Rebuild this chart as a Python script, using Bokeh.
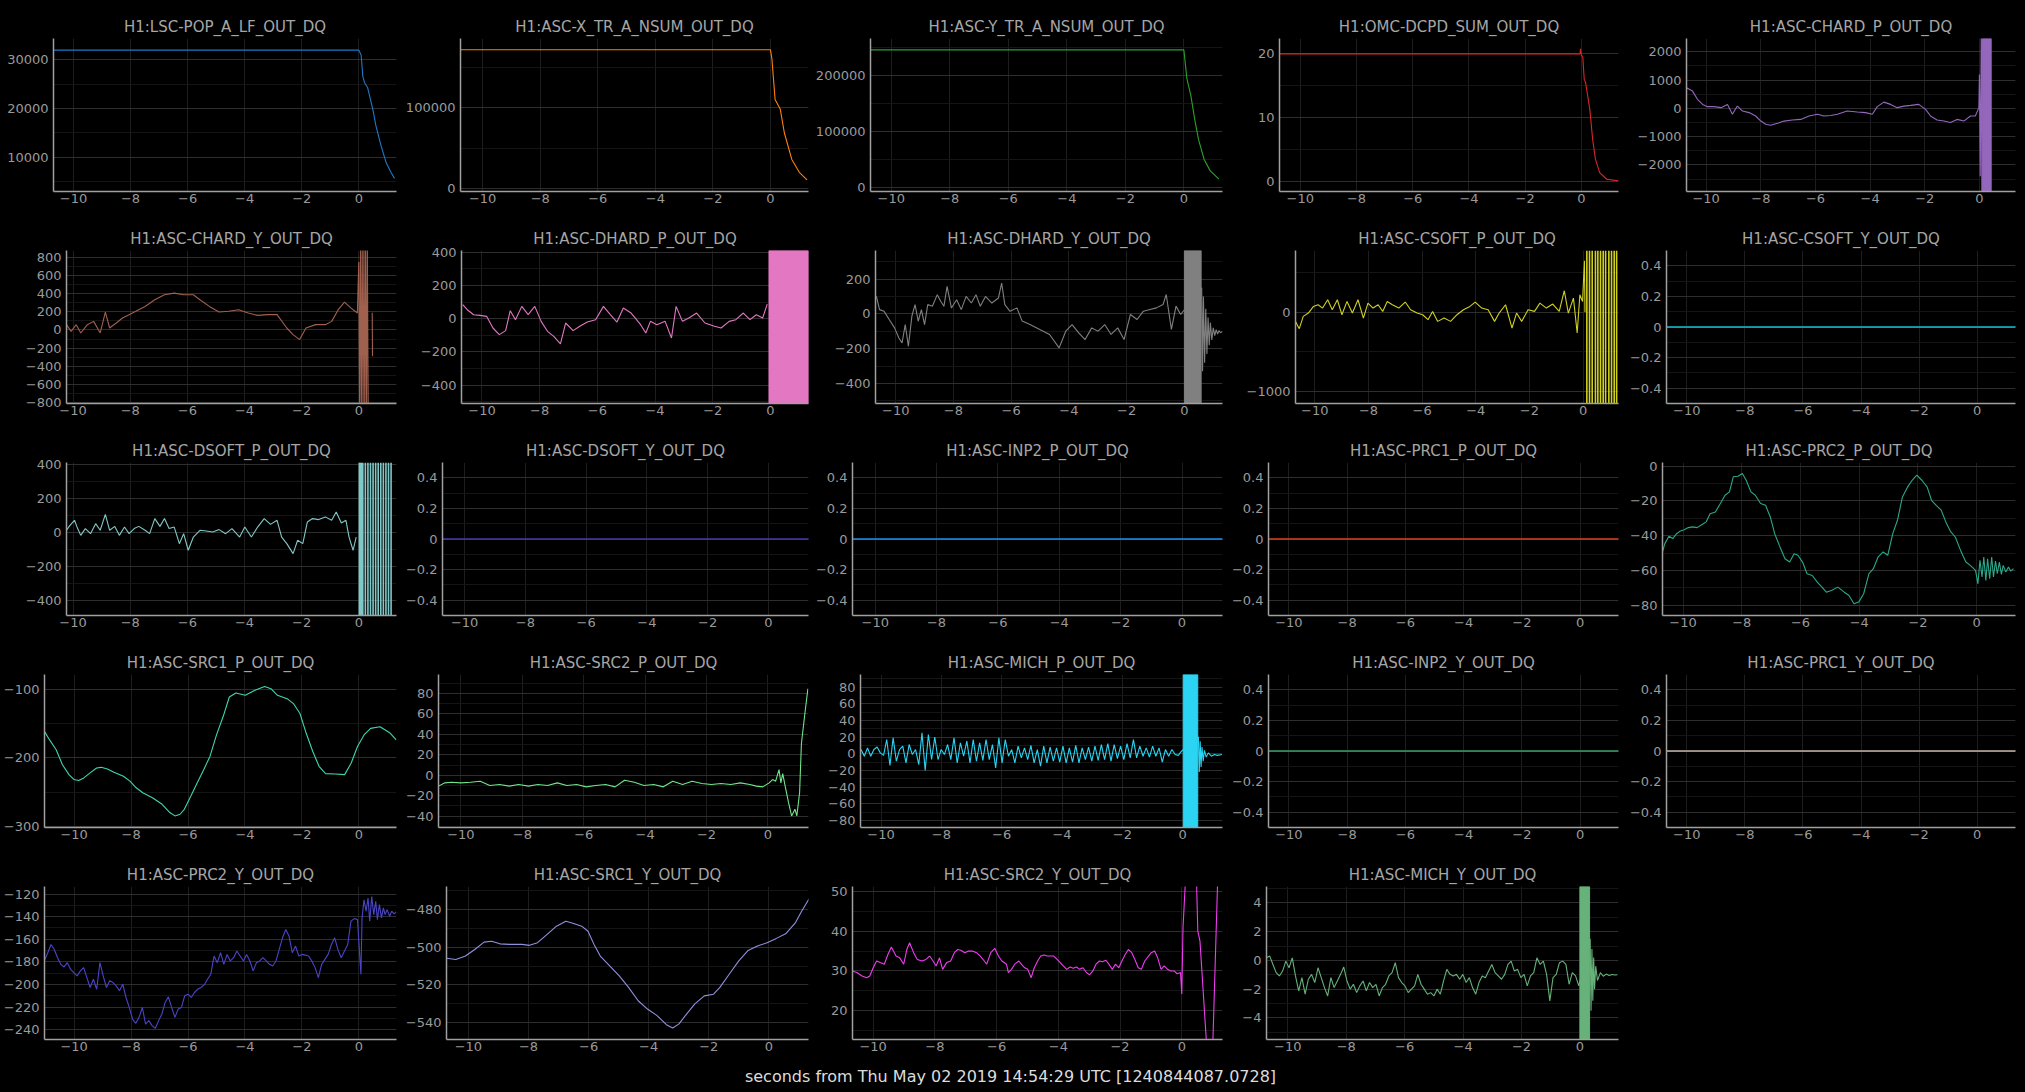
import numpy as np
from bokeh.core.properties import value
from bokeh.embed import file_html
from bokeh.layouts import column, row
from bokeh.models import BasicTickFormatter, Range1d, SingleIntervalTicker, Spacer
from bokeh.plotting import figure
from bokeh.resources import INLINE

nan = float("nan")

XLABEL = "seconds from Thu May 02 2019 14:54:29 UTC [1240844087.0728]"

# ---- data (seconds, channel value) ----
POP_T = [-10.7, 0.0, 0.08, 0.14, 0.2, 0.31, 0.49, 0.6, 0.78, 0.96, 1.13, 1.25]
POP_V = [32000, 32000, 31000, 26600, 25300, 24250, 19800, 16400, 12300, 8800, 6800, 5600]

XTR_T = [-10.77, 0.0, 0.05, 0.16, 0.34, 0.48, 0.74, 1.0, 1.27]
XTR_V = [171600, 171600, 160000, 110000, 98000, 69000, 36000, 20000, 10700]

YTR_T = [-10.71, 0.0, 0.1, 0.24, 0.37, 0.5, 0.69, 0.9, 1.2]
YTR_V = [246400, 246400, 196000, 164000, 122000, 86000, 50600, 29800, 15000]

DCPD_T = [-10.74, -0.05, -0.03, 0.0, 0.05, 0.1, 0.15, 0.3, 0.4, 0.5, 0.65, 0.9, 1.32]
DCPD_V = [20, 20, 20.8, 19.8, 19.5, 16, 15.5, 11.3, 6.6, 3.5, 1.4, 0.36, 0.1]

CHARD_P_T = [-10.72, -10.50, -10.32, -10.13, -9.95, -9.71, -9.46, -9.22, -9.04, -8.86,
             -8.67, -8.43, -8.19, -8.00, -7.82, -7.64, -7.39, -7.15, -6.85, -6.54,
             -6.24, -5.93, -5.69, -5.44, -5.20, -4.84, -4.47, -4.17, -3.92, -3.74,
             -3.50, -3.25, -3.01, -2.76, -2.52, -2.22, -1.97, -1.79, -1.55, -1.30,
             -1.06, -0.82, -0.57, -0.33, -0.15, -0.02, 0.0, 0.03, 0.07, 0.09]
CHARD_P_V = [730, 610, 320, 140, 60, 60, 25, 140, -210, 80,
             -95, -150, -270, -450, -565, -600, -530, -450, -410, -390,
             -270, -210, -270, -250, -210, -95, -130, -150, -210, 60,
             220, 140, 25, 80, 105, 140, -35, -270, -410, -450,
             -500, -390, -450, -270, -270, 25, 1200, -2400, 3000, -3000]
CHARD_P_BURST = [(0.11, 0.43)]

CHARD_Y_T = [-10.23, -10.07, -9.89, -9.73, -9.50, -9.28, -9.05, -8.87, -8.72, -8.49,
             -8.27, -8.04, -7.77, -7.48, -7.14, -6.80, -6.46, -6.13, -5.79, -5.56,
             -5.23, -4.89, -4.55, -4.21, -3.87, -3.54, -3.20, -2.86, -2.52, -2.30,
             -2.07, -1.85, -1.51, -1.17, -0.95, -0.72, -0.50, -0.27, -0.05,
             0.0, 0.03, 0.06, 0.09, 0.12, 0.15, 0.18, 0.21, 0.24, 0.27, 0.30, 0.33,
             0.40, 0.47, 0.48]
CHARD_Y_V = [59, -15, 59, -33, 59, 95, -33, 198, 22, 77,
             132, 169, 213, 260, 334, 389, 407, 389, 389, 334,
             260, 198, 206, 224, 187, 161, 169, 169, 22, -51,
             -106, 22, 59, 59, 95, 224, 308, 242, 187,
             750, -900, 900, -900, 900, -900, 900, -900, 900, -900, 900, -900,
             nan, 190, -290]

DHARD_P_T = [-10.67, -10.51, -10.29, -10.07, -9.84, -9.62, -9.40, -9.18, -9.02, -8.84,
             -8.62, -8.40, -8.17, -7.95, -7.73, -7.51, -7.28, -7.10, -6.84, -6.61,
             -6.35, -6.06, -5.79, -5.55, -5.32, -5.10, -4.83, -4.50, -4.32, -4.16,
             -3.94, -3.65, -3.43, -3.27, -3.05, -2.83, -2.56, -2.27, -1.94, -1.71,
             -1.43, -1.20, -0.94, -0.71, -0.49, -0.27, -0.11]
DHARD_P_V = [84, 54, 24, 20, 14, -56, -96, -72, 48, -6,
             74, 24, 74, -16, -76, -106, -152, -26, -72, -46,
             -20, -6, 74, 24, -20, 64, 34, -36, -86, -16,
             -36, -16, -116, 74, -16, 4, 34, -26, -46, -56,
             -16, -6, 34, -6, 24, 4, 88]
DHARD_P_BURST = [(-0.05, 1.32)]

DHARD_Y_T = [-10.67, -10.56, -10.40, -10.22, -10.04, -9.89, -9.78, -9.67, -9.56, -9.44,
             -9.33, -9.22, -9.11, -9.00, -8.89, -8.73, -8.56, -8.44, -8.33, -8.22,
             -8.07, -7.89, -7.73, -7.56, -7.38, -7.22, -7.07, -6.89, -6.67, -6.44,
             -6.33, -6.22, -6.04, -5.80, -5.62, -5.35, -5.01, -4.67, -4.34, -4.11,
             -3.89, -3.66, -3.44, -3.21, -2.99, -2.76, -2.54, -2.31, -2.09, -1.87,
             -1.64, -1.42, -1.19, -0.97, -0.74, -0.63, -0.45, -0.29, -0.13,
             0.6, 0.63, 0.66, 0.7, 0.74, 0.78, 0.82, 0.86, 0.9, 0.95, 1.0, 1.05,
             1.1, 1.15, 1.2, 1.25, 1.32]
DHARD_Y_V = [101, 25, 15, -33, -80, -138, -167, -61, -186, -13,
             54, -42, 25, -61, 54, 44, 111, 73, 44, 159,
             34, 82, 25, 101, 63, 111, 44, 101, 63, 92,
             178, 54, 15, 35, -41, -61, -89, -118, -195, -99,
             -61, -109, -147, -80, -99, -61, -118, -80, -147, -3,
             -32, 16, 26, 35, 54, 112, -89, 45, -3,
             150, -330, 100, -280, 30, -230, -20, -180, -50, -150, -80, -125,
             -90, -115, -95, -108, -100]
DHARD_Y_BURST = [(0.0, 0.58)]

CSOFT_P_T = [-10.72, -10.58, -10.43, -10.24, -10.05, -9.88, -9.71, -9.52, -9.35, -9.16,
             -8.99, -8.80, -8.60, -8.39, -8.19, -8.02, -7.83, -7.64, -7.47, -7.30,
             -7.11, -6.87, -6.63, -6.43, -6.19, -5.98, -5.78, -5.61, -5.42, -5.18,
             -4.94, -4.70, -4.46, -4.22, -4.02, -3.78, -3.54, -3.30, -3.13, -2.89,
             -2.65, -2.48, -2.29, -2.05, -1.81, -1.61, -1.37, -1.13, -0.89, -0.70,
             -0.55, -0.36, -0.22, -0.12, -0.02, 0.05, 0.07]
CSOFT_P_V = [-118, -210, -55, -13, 71, 92, 50, 155, 29, 155,
             -34, 134, -13, 155, -76, 113, 50, 92, 8, 134,
             92, 50, 126, 29, -13, -34, -97, 8, -118, -76,
             -118, -34, 29, 71, 126, 50, 29, -118, -13, 92,
             -202, -13, -118, 29, 8, 113, 50, 101, 8, 269,
             -13, 176, -265, 218, 134, 647, 0]
CSOFT_P_STRIPES = [0.14, 0.24, 0.34, 0.46, 0.55, 0.65, 0.75, 0.84, 0.96, 1.06, 1.16, 1.25]

ZERO_T = [-11.2, 1.4]
ZERO_V = [0, 0]

DSOFT_P_T = [-10.23, -10.11, -9.95, -9.84, -9.73, -9.57, -9.39, -9.21, -9.05, -8.87,
             -8.72, -8.54, -8.38, -8.20, -8.04, -7.86, -7.70, -7.48, -7.32, -7.14,
             -6.96, -6.80, -6.64, -6.46, -6.28, -6.13, -5.97, -5.79, -5.56, -5.34,
             -5.11, -4.89, -4.66, -4.44, -4.17, -3.99, -3.76, -3.54, -3.31, -3.09,
             -2.86, -2.70, -2.52, -2.30, -2.14, -1.96, -1.80, -1.62, -1.40, -1.17,
             -0.95, -0.79, -0.61, -0.45, -0.34, -0.20, -0.09]
DSOFT_P_V = [14, 43, 73, 24, -16, 24, -6, 53, 14, 108,
             14, 37, -16, 33, -6, 24, 37, 14, -6, 83,
             37, 83, 24, 33, -65, -6, -104, -26, 14, 10,
             4, 18, -6, 24, -26, 33, -26, 33, 83, 49,
             73, -26, -65, -124, -45, -65, 63, 83, 77, 93,
             73, 122, 57, 73, -26, -104, -26]
DSOFT_P_STRIPES = [0.02, 0.05, 0.09, 0.14, 0.23, 0.32, 0.41, 0.5, 0.59, 0.68, 0.77,
                   0.86, 0.95, 1.04, 1.13]

PRC2_P_T = [-10.70, -10.62, -10.48, -10.35, -10.22, -10.09, -9.96, -9.82, -9.67, -9.52,
            -9.34, -9.21, -9.08, -8.90, -8.73, -8.57, -8.42, -8.29, -8.13, -7.98,
            -7.85, -7.69, -7.54, -7.36, -7.19, -7.03, -6.88, -6.70, -6.53, -6.37,
            -6.22, -6.09, -5.93, -5.78, -5.60, -5.43, -5.27, -5.12, -4.95, -4.73,
            -4.51, -4.35, -4.18, -4.02, -3.85, -3.67, -3.52, -3.36, -3.19, -3.03,
            -2.86, -2.70, -2.53, -2.35, -2.20, -2.04, -1.87, -1.69, -1.54, -1.38,
            -1.21, -1.03, -0.88, -0.73, -0.55, -0.37, -0.22, -0.04,
            0.04, 0.11, 0.18, 0.24, 0.31, 0.37, 0.44, 0.51, 0.57, 0.64, 0.70, 0.77,
            0.84, 0.90, 0.99, 1.08, 1.16, 1.25]
PRC2_P_V = [-49.3, -44.5, -40.3, -41.6, -38.8, -37.2, -36.5, -35.3, -34.9, -35.3,
            -33.4, -32, -27.3, -26.3, -21.5, -16.7, -14.8, -6.1, -5.8, -4.2,
            -8.1, -14.8, -16.7, -21.5, -22.5, -29.2, -38.8, -46.4, -53.2, -55.1,
            -50.3, -51.2, -55.1, -61.8, -62.8, -66.6, -69.5, -72.4, -71.4, -69.5,
            -72.4, -74.3, -79.1, -78.1, -73.3, -61.8, -58.9, -52.2, -49.3, -51.2,
            -38.8, -31.1, -17.7, -11.9, -8.1, -5.2, -8.1, -11.9, -19.6, -22.5,
            -25.3, -33, -37.8, -40.7, -48.4, -55.1, -57, -59.9,
            -67.6, -54.1, -63.7, -52.2, -65.6, -53.2, -64.7, -52.2, -63.7, -54.5, -61.8, -55.1,
            -62.2, -57, -60.8, -58, -60.3, -58.9]

SRC1_P_T = [-11.04, -10.86, -10.63, -10.41, -10.18, -10.0, -9.84, -9.66, -9.44, -9.21,
            -9.05, -8.83, -8.60, -8.27, -8.04, -7.82, -7.59, -7.25, -6.91, -6.64,
            -6.46, -6.28, -6.13, -5.90, -5.68, -5.45, -5.23, -5.0, -4.77, -4.55,
            -4.32, -3.99, -3.65, -3.31, -3.09, -2.86, -2.52, -2.30, -2.07, -1.85,
            -1.62, -1.40, -1.17, -0.83, -0.50, -0.27, -0.05, 0.18, 0.41, 0.74,
            1.08, 1.31]
SRC1_P_V = [-161.5, -173.6, -188.1, -210, -224.5, -231.7, -233.2, -229.3, -222, -214.8,
            -213.8, -216.2, -221.1, -226.9, -234.1, -243.8, -251.1, -258.4, -268, -280.1,
            -285, -282.6, -275.3, -255.9, -236.6, -217.2, -197.8, -166.3, -139.7, -110.7,
            -104.8, -108.2, -100.9, -95.2, -98.5, -108.2, -113.1, -120.3, -134.9, -163.9,
            -190.6, -212.3, -223, -223.5, -224.5, -207.5, -183.3, -166.3, -156.7, -154.2,
            -163, -173.6]

SRC2_P_T = [-10.73, -10.52, -10.31, -10.0, -9.69, -9.37, -9.06, -8.74, -8.43, -8.12,
            -7.80, -7.49, -7.18, -6.86, -6.55, -6.23, -5.92, -5.61, -5.29, -4.98,
            -4.67, -4.35, -4.04, -3.72, -3.41, -3.10, -2.78, -2.47, -2.15, -1.84,
            -1.53, -1.21, -0.90, -0.59, -0.38, -0.17, 0.04, 0.15, 0.25, 0.36,
            0.42, 0.48, 0.56, 0.67, 0.77, 0.88, 0.94, 1.03, 1.09, 1.19, 1.30]
SRC2_P_V = [-10.6, -7.4, -6.8, -7.4, -6.8, -5.8, -10, -9, -10.6, -9,
            -10.6, -9, -10, -7.4, -10, -9, -11.3, -10, -9, -11.3,
            -4.8, -6.8, -10, -9, -11.3, -5.8, -9, -5.8, -8.1, -9,
            -8.1, -9, -7.4, -9, -10.6, -11.3, -7.4, -4.2, -5.8, 5.5,
            -7.4, 1.6, -10.6, -26.8, -39.7, -33.2, -39.7, -17.1, 31.3, 57.1, 84.5]

# uniformly sampled stretch before the lock loss: (first, last) sample time
MICH_P_SPAN = (-10.66, -0.04)
MICH_P_V = [5, -3, 7, -3, 5, 8, 1, -2, 17, -14, 19, -9, 5, 9, -11, 11, -1, 5, -13, 25,
            -20, 23, -7, 20, -7, 5, -1, 11, -7, 19, -11, 13, -3, 15, -11, 17, -9, 13, -8, 17,
            -7, 11, -17, 19, -11, 17, -3,
            5, -11, 9, -5, 7, -7, 10, -11, 5, -15, 9, -11, 8, -9, 7, -10, 9, -11, 7, -10,
            10, -11, 7, -7, 8, -9, 9, -8, 11, -7, 12, -9, 11, -6, 9, -7, 12, -5, 17, -5,
            9, -3, 7, -4, 9, -3, 7, -10, 5, -3, 5, -1, -2, 3]
MICH_P_POST_T = [0.52, 0.55, 0.58, 0.61, 0.64, 0.68, 0.72, 0.78, 0.85, 0.95, 1.05, 1.15, 1.3]
MICH_P_POST_V = [20, -22, 15, -16, 8, -9, 4, -4, 1, -3, -1, -2, -1]
MICH_P_BURST = [(0.02, 0.5)]

PRC2_Y_SPAN = (-11.04, -0.05)
PRC2_Y_V = [-178.7, -171.9, -164.6, -169, -176.3, -182.2, -184.5, -180.7,
            -186.6, -189.5, -192.4, -188, -185.1, -193.9, -202.7, -195.4, -204.2, -180.7,
            -192.4, -202.7, -196.8, -198.3, -201.2,
            -205.6, -199.8, -211.5, -220.3, -230.6, -234.4, -229.1, -220.3, -235, -232,
            -236.4, -238.8, -232, -226.2, -215.9, -210.9, -220.3, -229.1, -221.8, -220.3,
            -210, -208.6, -211.5, -207.1, -204.2, -202.7, -200.4, -195.4, -191, -174.8,
            -180.7, -171.9, -182.2, -173.4, -179.2, -176.3, -170.4, -174.8, -179.2, -173.4,
            -179.2, -188, -180.7, -179.2, -176.3, -179.2, -182.2, -183.6, -179.2, -169,
            -158.7, -151.4, -157.2, -171.9, -166, -174.8, -173.4, -174, -174.8, -179.2,
            -185.1, -193.9, -182.2, -177.8, -173.4, -164.6, -158.7, -169, -176.3, -170.4,
            -164.6, -144, -141.7, -142.6]
PRC2_Y_POST_T = [0.07, 0.11, 0.18, 0.25, 0.32, 0.38, 0.45, 0.52, 0.59, 0.65, 0.72, 0.79,
                 0.86, 0.92, 0.99, 1.08, 1.15, 1.24, 1.31]
PRC2_Y_POST_V = [-191, -141.1, -125, -135.2, -123.5, -144, -122.1, -138.2, -126.5, -142.6,
                 -129.4, -141.1, -132.3, -138.2, -133.8, -139.6, -135.2, -137.5, -135.8]

SRC1_Y_T = [-10.73, -10.42, -10.10, -9.79, -9.48, -9.23, -8.95, -8.64, -8.22, -7.97,
            -7.70, -7.38, -7.07, -6.76, -6.55, -6.23, -6.02, -5.82, -5.61, -5.29,
            -4.98, -4.67, -4.35, -4.04, -3.72, -3.41, -3.20, -2.99, -2.78, -2.47,
            -2.15, -1.84, -1.63, -1.32, -1.0, -0.69, -0.38, -0.06, 0.25, 0.56,
            0.88, 1.09, 1.34]
SRC1_Y_V = [-505.9, -506.5, -504.7, -501.2, -497.3, -496.8, -498.2, -498.5, -498.5, -499.0,
            -497.6, -493.2, -488.8, -486.2, -487.1, -488.8, -491.5, -498.5, -504.7, -510,
            -515.3, -521.4, -528.5, -532.9, -536.4, -541.2, -543, -540.8, -536.4, -530.3,
            -525.9, -525, -521.4, -514.4, -507.3, -501.7, -499.4, -497.6, -495.3, -492.9,
            -487.1, -480.9, -474.2]

SRC2_Y_T = [-10.67, -10.53, -10.36, -10.21, -10.11, -10.0, -9.89, -9.77, -9.64, -9.52,
            -9.41, -9.26, -9.14, -9.01, -8.91, -8.82, -8.69, -8.57, -8.42, -8.29,
            -8.17, -8.06, -7.96, -7.85, -7.75, -7.62, -7.49, -7.37, -7.26, -7.16,
            -7.03, -6.91, -6.78, -6.65, -6.53, -6.40, -6.32, -6.19, -6.06, -5.94,
            -5.83, -5.68,
            -5.62, -5.52, -5.41, -5.28, -5.2, -5.09, -4.99, -4.88, -4.78, -4.67,
            -4.57, -4.46, -4.36, -4.15, -4.04, -3.94, -3.73, -3.62, -3.52, -3.41,
            -3.31, -3.2, -3.09, -2.99, -2.88, -2.78, -2.67, -2.57, -2.46, -2.36,
            -2.25, -2.15, -2.04, -1.94, -1.83, -1.73, -1.62, -1.52, -1.41, -1.31,
            -1.2, -0.99, -0.88, -0.78, -0.67, -0.57, -0.46, -0.36, -0.25, -0.15,
            -0.04, 0.0, 0.04, 0.11,
            0.3, 0.47, 0.52, 0.59, 0.8, 0.9, 1.0, 1.16, 1.25]
SRC2_Y_V = [30, 29.6, 28.75, 28.3, 28.75, 30.8, 32.5, 32.1, 31.7, 34.2,
            36, 33.75, 33.3, 31.7, 35.4, 37.1, 34.6, 32.9, 32.5, 32.9,
            33.75, 32.5, 31.25, 33.3, 30.4, 32.1, 32.5, 34.6, 35.4, 35.2,
            34.6, 35, 35, 34.6, 33.75, 32.5, 31.7, 34.6, 35.7, 33.75,
            32.5, 31.7,
            29.6, 30.4, 31.7, 32.5, 31.7, 30.8, 30.4, 28.3, 30.8, 32.5,
            33.75, 34, 33.75, 33.75, 32.9, 32.1, 30.4, 31, 30.7, 31,
            30.4, 30.8, 29.6, 29, 30, 31.7, 32.5, 32.3, 32.7, 31.7,
            30.4, 31.7, 30.8, 32.5, 34.2, 35.4, 34.6, 32.9, 30.8, 30.4,
            32.5, 34.6, 35, 33.3, 30.4, 31.25, 30.4, 30, 30, 29.3,
            29.6, 24.2, 40.8, 51.3,
            60, 55, 40, 37.5, 12, 5, 10, 52, 60]

MICH_Y_SPAN = (-10.73, -0.04)
MICH_Y_V = [0.18, 0.3, -0.28, -0.85, -1.08, -0.74, -0.05, -0.51, 0.18, -1.08,
            -2.12, -1.2, -2.35, -1.31, -0.97, -1.54, -0.51, -1.2, -1.89, -2.47,
            -1.2, -1.89, -1.43, -0.97, -0.46, -1.43, -2, -1.66, -2.24, -1.77,
            -1.43, -2.12, -1.54, -1.89, -1.66, -2.47, -1.89, -1.66, -1.08, -0.85,
            -0.16, -1.2, -1.54, -1.77, -2.24, -2, -1.77, -0.97, -1.66, -2,
            -2.35, -2.24, -2.47, -2, -2.35, -1.43, -0.62, -0.97, -1.08, -0.97,
            -1.31, -0.97, -1.54, -1.2, -1.89, -2.35, -1.54, -1.08, -1.2, -0.74,
            -0.28, -0.85, -1.08, -1.31, -0.97, -0.28, -0.05, -0.74, -0.62, -1.2,
            -0.97, -1.77, -1.08, -0.85, 0.18, -0.28, -0.05, -0.97, -2.81, -1.2,
            -0.97, -0.16, -0.05, -0.28, -1.66, -0.85, -1.08, -1.77]
MICH_Y_POST_T = [0.35, 0.38, 0.41, 0.44, 0.47, 0.5, 0.54, 0.6, 0.7, 0.8, 0.9, 1.0, 1.1, 1.2, 1.28]
MICH_Y_POST_V = [1.5, -3.5, 0.8, -2.8, 0.2, -2, -0.4, -1.4, -0.85, -1.1, -0.95, -1.05, -0.98, -1.02, -1.0]
MICH_Y_BURST = [(0.0, 0.33)]

MICH_P_T = list(np.linspace(*MICH_P_SPAN, len(MICH_P_V))) + MICH_P_POST_T
PRC2_Y_T = list(np.linspace(*PRC2_Y_SPAN, len(PRC2_Y_V))) + PRC2_Y_POST_T
MICH_Y_T = list(np.linspace(*MICH_Y_SPAN, len(MICH_Y_V))) + MICH_Y_POST_T

# name, colour, times, values, x start, y range, y tick step, bursts, stripes
PANELS = [
    [("H1:LSC-POP_A_LF_OUT_DQ", "#1f78c8", POP_T, POP_V, -10.7, (2900, 34400), 10000, [], []),
     ("H1:ASC-X_TR_A_NSUM_OUT_DQ", "#ff7f0e", XTR_T, XTR_V, -10.77, (-3700, 185600), 100000, [], []),
     ("H1:ASC-Y_TR_A_NSUM_OUT_DQ", "#2ca02c", YTR_T, YTR_V, -10.71, (-7100, 266700), 100000, [], []),
     ("H1:OMC-DCPD_SUM_OUT_DQ", "#d62728", DCPD_T, DCPD_V, -10.74, (-1.56, 22.4), 10, [], []),
     ("H1:ASC-CHARD_P_OUT_DQ", "#9467bd", CHARD_P_T, CHARD_P_V, -10.72, (-2940, 2470), 1000, CHARD_P_BURST, [])],
    [("H1:ASC-CHARD_Y_OUT_DQ", "#a0604e", CHARD_Y_T, CHARD_Y_V, -10.23, (-811, 877), 200, [], []),
     ("H1:ASC-DHARD_P_OUT_DQ", "#e377c2", DHARD_P_T, DHARD_P_V, -10.71, (-510, 410), 200, DHARD_P_BURST, []),
     ("H1:ASC-DHARD_Y_OUT_DQ", "#808080", DHARD_Y_T, DHARD_Y_V, -10.7, (-515, 365), 200, DHARD_Y_BURST, []),
     ("H1:ASC-CSOFT_P_OUT_DQ", "#d0d020", CSOFT_P_T, CSOFT_P_V, -10.72, (-1155, 777), 1000, [], CSOFT_P_STRIPES),
     ("H1:ASC-CSOFT_Y_OUT_DQ", "#17becf", ZERO_T, ZERO_V, -10.7, (-0.5, 0.5), 0.2, [], [])],
    [("H1:ASC-DSOFT_P_OUT_DQ", "#80c8c8", DSOFT_P_T, DSOFT_P_V, -10.23, (-489, 414), 200, [], DSOFT_P_STRIPES),
     ("H1:ASC-DSOFT_Y_OUT_DQ", "#4a38a8", ZERO_T, ZERO_V, -10.73, (-0.5, 0.5), 0.2, [], []),
     ("H1:ASC-INP2_P_OUT_DQ", "#1a90f0", ZERO_T, ZERO_V, -10.74, (-0.5, 0.5), 0.2, [], []),
     ("H1:ASC-PRC1_P_OUT_DQ", "#d8401c", ZERO_T, ZERO_V, -10.7, (-0.5, 0.5), 0.2, [], []),
     ("H1:ASC-PRC2_P_OUT_DQ", "#2aa88a", PRC2_P_T, PRC2_P_V, -10.7, (-85.8, 2.1), 20, [], [])],
    [("H1:ASC-SRC1_P_OUT_DQ", "#3ed6ae", SRC1_P_T, SRC1_P_V, -11.04, (-302, -77.7), 100, [], []),
     ("H1:ASC-SRC2_P_OUT_DQ", "#70e48a", SRC2_P_T, SRC2_P_V, -10.73, (-51, 98.4), 20, [], []),
     ("H1:ASC-MICH_P_OUT_DQ", "#2ad4f2", MICH_P_T, MICH_P_V + MICH_P_POST_V, -10.68, (-88.5, 95), 20, MICH_P_BURST, []),
     ("H1:ASC-INP2_Y_OUT_DQ", "#3a9e6c", ZERO_T, ZERO_V, -10.7, (-0.5, 0.5), 0.2, [], []),
     ("H1:ASC-PRC1_Y_OUT_DQ", "#c4b4aa", ZERO_T, ZERO_V, -10.7, (-0.5, 0.5), 0.2, [], [])],
    [("H1:ASC-PRC2_Y_OUT_DQ", "#4b44c8", PRC2_Y_T, PRC2_Y_V + PRC2_Y_POST_V, -11.04, (-248.7, -113.3), 20, [], []),
     ("H1:ASC-SRC1_Y_OUT_DQ", "#9090e0", SRC1_Y_T, SRC1_Y_V, -10.73, (-549.1, -467.7), 20, [], []),
     ("H1:ASC-SRC2_Y_OUT_DQ", "#f03cf0", SRC2_Y_T, SRC2_Y_V, -10.67, (12.75, 51.25), 10, [], []),
     ("H1:ASC-MICH_Y_OUT_DQ", "#66b27a", MICH_Y_T, MICH_Y_V + MICH_Y_POST_V, -10.73, (-5.5, 5.14), 2, MICH_Y_BURST, [])],
]

X_END = 1.32
ROW_H = 212
COL_W = [402, 410, 416, 398, 394]
PAD_R = [6, 4, 6, 8, 5]
PAD_L = [[53, 54, 58, 51, 60],
         [66, 59, 63, 67, 36],
         [66, 36, 40, 38, 36],
         [43, 36, 48, 38, 36],
         [43, 36, 40, 38]]

FONT = "DejaVu Sans"


def make_panel(spec, r, c):
    name, color, t, v, x0, yr, dy, bursts, stripes = spec
    p = figure(width=COL_W[c], height=ROW_H, title=name,
               x_range=Range1d(x0, X_END), y_range=Range1d(*yr),
               output_backend="svg", toolbar_location=None,
               background_fill_color="black", border_fill_color="black",
               outline_line_color=None,
               min_border_left=PAD_L[r][c], min_border_right=PAD_R[c],
               min_border_top=38, min_border_bottom=21)
    p.title.align = "center"
    p.title.text_font = FONT
    p.title.text_font_size = "15px"
    p.title.text_font_style = "normal"
    p.title.text_color = "#a6a6a6"
    p.title.standoff = 5

    p.xaxis.ticker = SingleIntervalTicker(interval=2, num_minor_ticks=2)
    p.yaxis.ticker = SingleIntervalTicker(interval=dy, num_minor_ticks=2)
    p.yaxis.formatter = BasicTickFormatter(use_scientific=False)
    for ax in (p.xaxis, p.yaxis):
        ax.axis_line_color = "#a0a0a0"
        ax.axis_line_width = 1.5
        ax.major_tick_line_color = None
        ax.minor_tick_line_color = None
        ax.major_tick_out = 0
        ax.minor_tick_out = 0
        ax.axis_label_standoff = 0
        ax.major_label_text_font = FONT
        ax.major_label_text_font_size = "13px"
        ax.major_label_text_color = "#9a9a9a"
    p.xaxis.major_label_standoff = 2
    p.yaxis.major_label_standoff = 5
    p.xgrid.grid_line_color = "#1e1e1e"
    p.ygrid.grid_line_color = "#2e2e2e"
    p.ygrid.minor_grid_line_color = "#151515"

    lw = 1.6 if len(t) == 2 else 1.1
    p.line(t, v, line_color=color, line_width=lw)
    if bursts:
        p.quad(left=[b[0] for b in bursts], right=[b[1] for b in bursts],
               bottom=yr[0], top=yr[1], fill_color=color, line_color=color)
    if stripes:
        p.segment(x0=stripes, y0=yr[0], x1=stripes, y1=yr[1],
                  line_color=color, line_width=1.6)
    return p


rows = []
for r, panels in enumerate(PANELS):
    figs = [make_panel(spec, r, c) for c, spec in enumerate(panels)]
    if len(figs) < 5:
        figs.append(Spacer(width=COL_W[4], height=ROW_H, styles={"background": "#000000"}))
    rows.append(row(figs, spacing=0))

lab = figure(width=sum(COL_W), height=31, x_range=(0, 1), y_range=(0, 1),
             output_backend="svg", toolbar_location=None,
             background_fill_color="black", border_fill_color="black",
             outline_line_color=None, min_border=0,
             x_axis_location=None, y_axis_location=None)
lab.grid.visible = False
lab.text(x=[0.5], y=[0.5], text=[XLABEL], text_align="center", text_baseline="middle",
         text_font=value(FONT), text_font_size="16px", text_color="#dcdcdc")

page = column(rows + [lab], spacing=0)
html = file_html(page, INLINE, title="lockloss")
html = html.replace("</head>", "<style>html, body { background: #000000; }</style></head>")
open("out.html", "w").write(html)
